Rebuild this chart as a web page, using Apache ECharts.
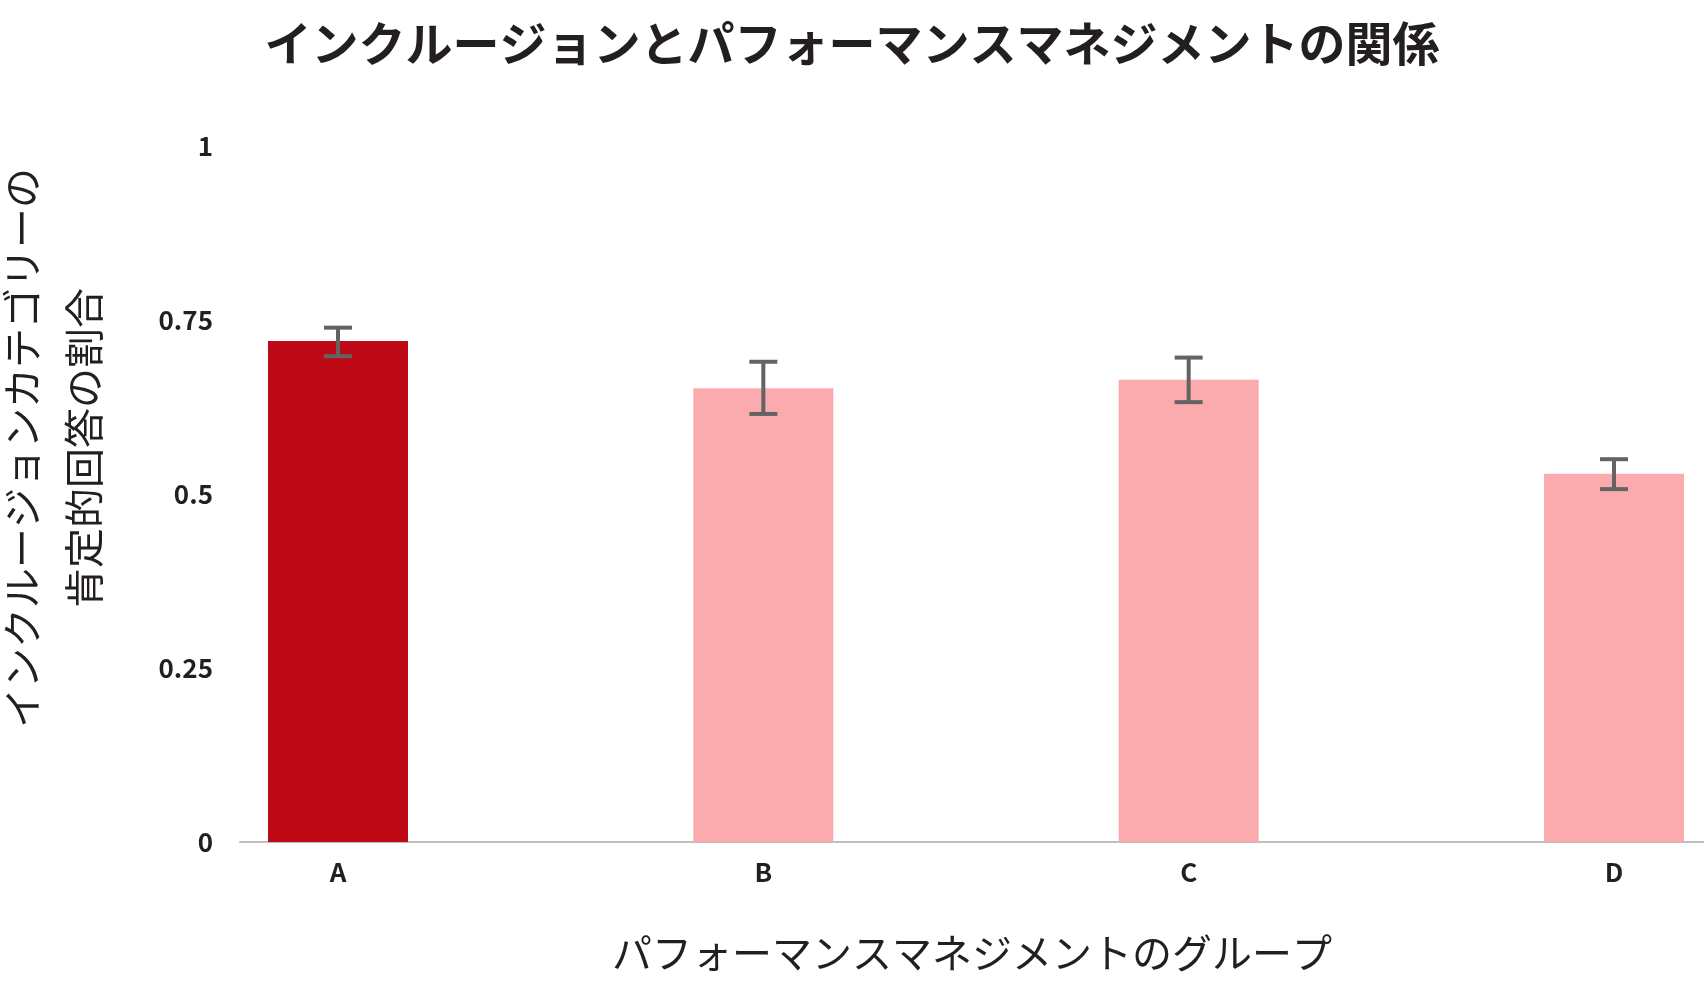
<!DOCTYPE html>
<html>
<head>
<meta charset="utf-8">
<script src="https://cdn.jsdelivr.net/npm/echarts@6/dist/echarts.min.js"></script>
<style>
html,body{margin:0;padding:0;background:#fff;}
#chart{width:1704px;height:992px;}
</style>
</head>
<body>
<div id="chart"></div>
<script>
const titleText = 'インクルージョンとパフォーマンスマネジメントの関係';
const xAxisName = 'パフォーマンスマネジメントのグループ';
const yAxisName = 'インクルージョンカテゴリーの\n肯定的回答の割合';
const categories = ['A', 'B', 'C', 'D'];
const values = [0.72, 0.652, 0.664, 0.529];
const errLow = [0.698, 0.615, 0.632, 0.507];
const errHigh = [0.739, 0.690, 0.696, 0.550];
const barColors = ['#be0a16', '#fbabad', '#fbabad', '#fbabad'];
const yTicks = [0, 0.25, 0.5, 0.75, 1];

const FONT = '"Noto Sans CJK JP", "Noto Sans", sans-serif';
const TEXT = '#231f20';

const chart = echarts.init(document.getElementById('chart'), null, {renderer: 'canvas'});

const barData = categories.map((c, i) => ({
  value: [i, values[i]],
  itemStyle: {color: barColors[i]}
}));
const errData = categories.map((c, i) => [i, errLow[i], errHigh[i]]);

chart.setOption({
  animation: false,
  backgroundColor: '#fff',
  textStyle: {fontFamily: FONT},
  title: {
    text: titleText,
    left: 'center',
    top: 15,
    textStyle: {fontFamily: FONT, fontSize: 47, fontWeight: 'bold', color: TEXT}
  },
  grid: {left: 240, right: 0, top: 146, bottom: 150, containLabel: false, outerBoundsMode: 'none'},
  xAxis: {
    type: 'value',
    min: -0.2304,
    max: 3.2116,
    name: xAxisName,
    nameLocation: 'middle',
    nameGap: 91,
    nameTextStyle: {fontFamily: FONT, fontSize: 40, color: TEXT},
    axisLine: {show: true, lineStyle: {color: '#bfbfbf', width: 2}},
    axisTick: {show: false},
    splitLine: {show: false},
    axisLabel: {
      customValues: [0, 1, 2, 3],
      formatter: v => categories[Math.round(v)],
      margin: 17,
      fontFamily: FONT,
      fontSize: 26,
      fontWeight: 'bold',
      color: TEXT
    }
  },
  yAxis: {
    type: 'value',
    min: 0,
    max: 1,
    interval: 0.25,
    name: yAxisName,
    nameLocation: 'middle',
    nameGap: 125,
    nameRotate: 90,
    nameTextStyle: {fontFamily: FONT, fontSize: 40, color: TEXT, lineHeight: 62, padding: [0, 0, 0, 92]},
    axisLine: {show: false},
    axisTick: {show: false},
    splitLine: {show: false},
    axisLabel: {
      margin: 27,
      fontFamily: FONT,
      fontSize: 26,
      fontWeight: 'bold',
      color: TEXT,
      formatter: v => String(yTicks.find(t => Math.abs(t - v) < 1e-9) ?? v)
    }
  },
  series: [
    {
      type: 'bar',
      data: barData,
      barWidth: 140
    },
    {
      type: 'custom',
      data: errData,
      z: 10,
      renderItem: function (params, api) {
        const x = api.value(0);
        const lo = api.coord([x, api.value(1)]);
        const hi = api.coord([x, api.value(2)]);
        const hw = 14;
        const style = {stroke: '#636363', lineWidth: 4};
        return {
          type: 'group',
          children: [
            {type: 'line', shape: {x1: lo[0], y1: lo[1], x2: hi[0], y2: hi[1]}, style: style},
            {type: 'line', shape: {x1: hi[0] - hw, y1: hi[1], x2: hi[0] + hw, y2: hi[1]}, style: style},
            {type: 'line', shape: {x1: lo[0] - hw, y1: lo[1], x2: lo[0] + hw, y2: lo[1]}, style: style}
          ]
        };
      }
    }
  ]
});
</script>
</body>
</html>
